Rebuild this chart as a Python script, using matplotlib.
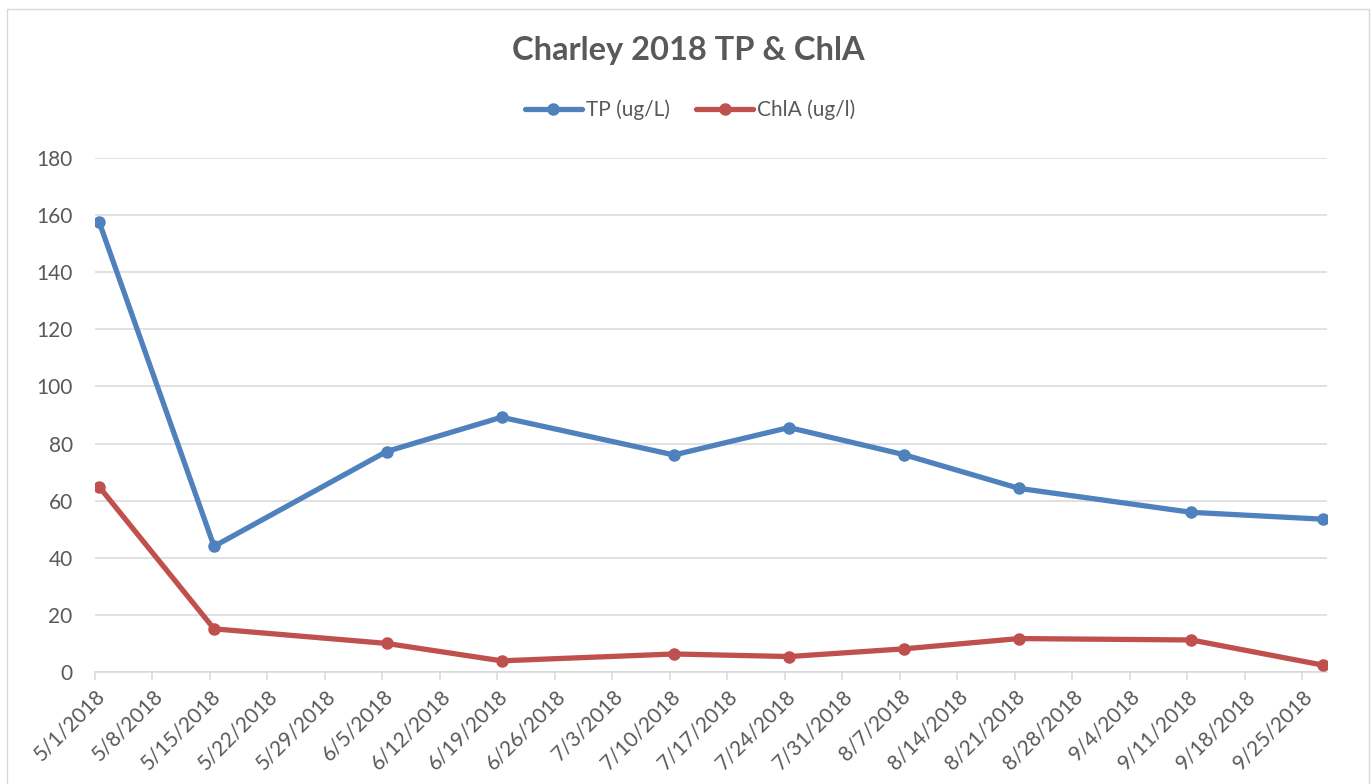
import datetime as dt
import matplotlib
matplotlib.use("Agg")
import matplotlib.pyplot as plt
import matplotlib.dates as mdates
from matplotlib.patches import Rectangle
from matplotlib.ticker import FuncFormatter

plt.rcParams['font.family'] = ['Lato', 'DejaVu Sans']

# sample dates and values
dates = ["2018-05-01", "2018-05-15", "2018-06-05", "2018-06-19", "2018-07-10",
         "2018-07-24", "2018-08-07", "2018-08-21", "2018-09-11", "2018-09-27"]
tp = [157.7, 44.0, 77.2, 89.2, 76.0, 85.6, 76.1, 64.3, 55.9, 53.5]
chla = [64.9, 15.1, 10.0, 3.9, 6.3, 5.4, 8.1, 11.7, 11.2, 2.4]
y_ticks = [0, 20, 40, 60, 80, 100, 120, 140, 160, 180]

days = [dt.datetime.strptime(d, "%Y-%m-%d") for d in dates]
# excel puts points in the middle of the day slot
x = [d + dt.timedelta(hours=12) for d in days]

grey = "#595959"
fig = plt.figure(figsize=(13.72, 7.84), dpi=100)
ax = fig.add_axes([0.0692, 0.1429, 0.898, 0.6556])

ax.plot(x, tp, color="#4f81bd", lw=3.8, marker="o", ms=8, label="TP (ug/L)",
        solid_capstyle="round", zorder=3)
ax.plot(x, chla, color="#c0504d", lw=3.8, marker="o", ms=8, label="ChlA (ug/l)",
        solid_capstyle="round", zorder=3)

ax.set_ylim(0, 180)
ax.set_yticks(y_ticks)
ax.set_xlim(days[0], dt.datetime(2018, 9, 28))
week_ticks = mdates.drange(days[0], dt.datetime(2018, 9, 26), dt.timedelta(days=7))
ax.set_xticks(week_ticks)
ax.xaxis.set_major_formatter(FuncFormatter(
    lambda v, p: "{0.month}/{0.day}/{0.year}".format(mdates.num2date(v))))

ax.grid(axis="y", color="#d9d9d9", lw=1.1)
ax.set_axisbelow(True)
for s in ["top", "right", "left"]:
    ax.spines[s].set_visible(False)
ax.spines["bottom"].set_color("#d9d9d9")
ax.spines["bottom"].set_linewidth(1.1)
ax.tick_params(axis="y", length=0, labelsize=15, labelcolor=grey, pad=16)
ax.tick_params(axis="x", length=6, width=1.1, color="#d9d9d9", labelsize=15,
               labelcolor=grey, pad=4)
for lab in ax.get_xticklabels():
    lab.set_rotation(45)
    lab.set_ha("right")
    lab.set_rotation_mode("anchor")

fig.text(0.502, 0.935, "Charley 2018 TP & ChlA", ha="center", va="center",
         fontsize=23.5, fontweight="bold", color=grey)
fig.legend(loc="center", bbox_to_anchor=(0.503, 0.86), ncol=2, frameon=False,
           fontsize=15, labelcolor=grey, handlelength=2.75, handletextpad=0.2,
           columnspacing=1.25)

fig.add_artist(Rectangle((0.005, -0.01), 0.993, 0.999, transform=fig.transFigure,
                         fill=False, edgecolor="#d9d9d9", lw=1))

fig.savefig("out.png", dpi=100)
